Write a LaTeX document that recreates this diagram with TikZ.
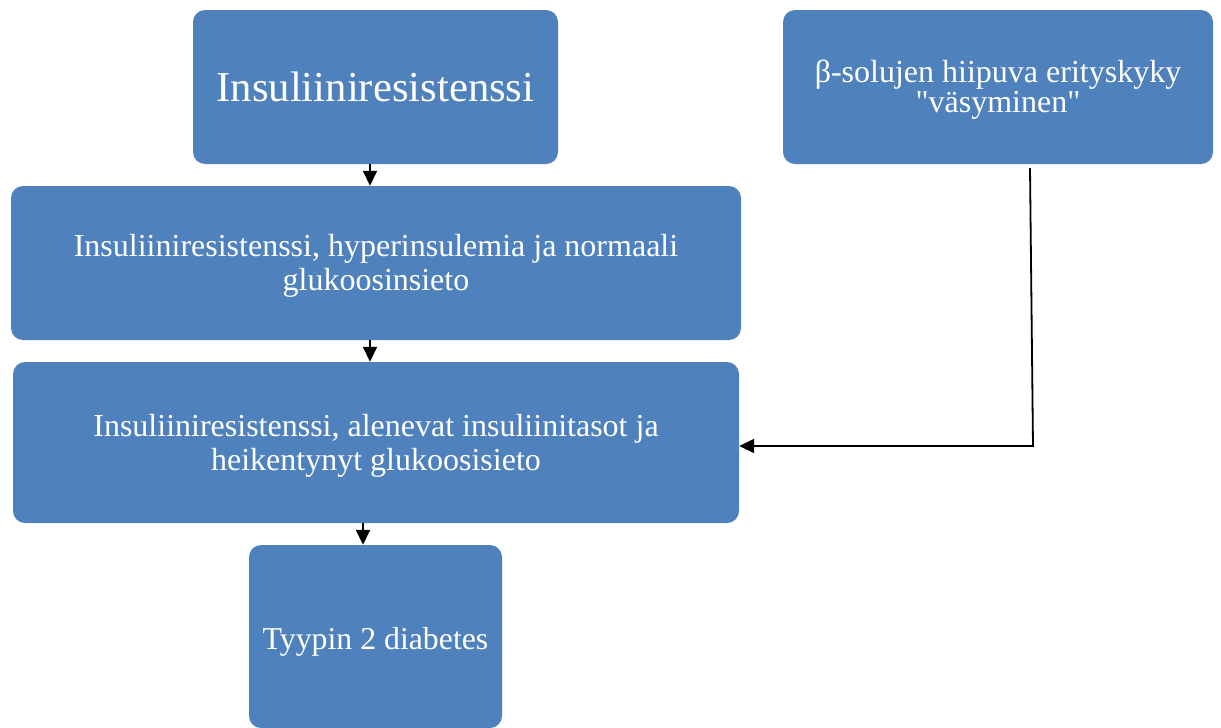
\documentclass[tikz,border=0pt]{standalone}
\usepackage{fontspec}
\setmainfont{Liberation Serif}[Ligatures=TeXOff]
\usetikzlibrary{arrows.meta}
\definecolor{boxblue}{HTML}{4F81BD}
\begin{document}
\begin{tikzpicture}[x=1pt,y=-1pt,
  stage/.style={fill=boxblue, draw=none, rounded corners=12pt, inner sep=0pt},
  caption/.style={text=white, align=center, inner sep=0pt},
  arr/.style={line width=1.8pt, -{Triangle[length=15pt,width=14pt]}}]
\useasboundingbox (0,0) rectangle (1221,728);

% boxes
\node[stage, minimum width=365pt, minimum height=154pt] (b1) at (375.5,87) {};
\node[stage, minimum width=730pt, minimum height=154pt] (b2) at (376,263) {};
\node[stage, minimum width=726pt, minimum height=161pt] (b3) at (376,442.5) {};
\node[stage, minimum width=253pt, minimum height=183pt] (b4) at (375.5,636.5) {};
\node[stage, minimum width=430pt, minimum height=154pt] (b5) at (998,87) {};

% box texts (yshift is in canvas units: negative moves the text down)
\node[caption, font=\fontsize{42.7}{48}\selectfont] (t1) at (b1.center)
  {Insuliiniresistenssi};
\node[caption, font=\fontsize{32}{34}\selectfont] (t2) at ([yshift=-3pt]b2.center)
  {Insuliiniresistenssi, hyperinsulemia ja normaali\\glukoosinsieto};
\node[caption, font=\fontsize{32}{34}\selectfont] (t3) at ([yshift=-3.5pt]b3.center)
  {Insuliiniresistenssi, alenevat insuliinitasot ja\\heikentynyt glukoosisieto};
\node[caption, font=\fontsize{31.8}{34}\selectfont] (t4) at ([yshift=-5.5pt]b4.center)
  {Tyypin 2 diabetes};
\node[caption, font=\fontsize{32}{30}\selectfont] (t5) at ([yshift=-3pt]b5.center)
  {β-solujen hiipuva erityskyky\\"väsyminen"};

% downward flow between the stages
\draw[arr] (b1.south -| 370,0) -- (b2.north -| 370,0);
\draw[arr] (b2.south -| 370,0) -- (b3.north -| 370,0);
\draw[arr] (b3.south -| 363,0) -- (b4.north -| 363,0);

% side branch from the beta-cell box into the third stage
\coordinate (s) at (1030,168);
\coordinate (k) at (1033,446);
\draw[arr] (s) -- (k) -- (b3.east |- k);
\end{tikzpicture}
\end{document}
